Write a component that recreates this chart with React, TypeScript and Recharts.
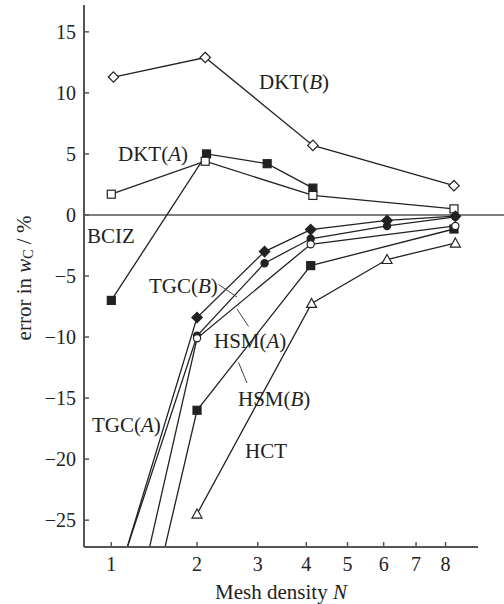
import { Line, LineChart, ReferenceLine, XAxis, YAxis } from "recharts";

// the mesh axis of the original is stretched roughly like N^0.35
const P = 0.35;
const toAxis = (n: number) => Math.pow(n, P);
const fromAxis = (v: number) => Math.pow(v, 1 / P);

const meshTicks = [1, 2, 3, 4, 5, 6, 7, 8];
const errorTicks = [-25, -20, -15, -10, -5, 0, 5, 10, 15];
const meshRange = [0.77, 9.2];
const errorRange = [-27.2, 17.2];
const zeroLineEnd = 10.3;

const dktBMesh = [1.02, 2.12, 4.15, 8.3];
const dktBError = [11.3, 12.9, 5.7, 2.4];

const dktAMesh = [1.0, 2.12, 4.15, 8.3];
const dktAError = [1.7, 4.4, 1.6, 0.5];

const bcizMesh = [1.0, 2.14, 3.18, 4.15];
const bcizError = [-7.0, 5.0, 4.2, 2.2];

const tgcAMesh = [1, 2, 3.13, 4.1, 6.1, 8.35];
const tgcAError = [-31.5, -8.4, -3.0, -1.2, -0.45, -0.1];

const tgcBMesh = [1, 2, 3.13, 4.1, 6.1, 8.35];
const tgcBError = [-31.2, -9.9, -3.95, -1.95, -0.9, -0.15];

const hsmAMesh = [1, 2, 4.1, 8.35];
const hsmAError = [-41, -10.1, -2.4, -0.9];

const hsmBMesh = [1, 2, 4.1, 8.3];
const hsmBError = [-46, -16.0, -4.15, -1.15];

const hctMesh = [2, 4.12, 6.1, 8.35];
const hctError = [-24.5, -7.25, -3.65, -2.3];

type Shape =
  | "diamondOpen"
  | "diamondFilled"
  | "squareOpen"
  | "squareFilled"
  | "circleOpen"
  | "circleFilled"
  | "triangleOpen";

const series: { name: string; mesh: number[]; error: number[]; shape: Shape }[] = [
  { name: "DKT(B)", mesh: dktBMesh, error: dktBError, shape: "diamondOpen" },
  { name: "BCIZ", mesh: bcizMesh, error: bcizError, shape: "squareFilled" },
  { name: "DKT(A)", mesh: dktAMesh, error: dktAError, shape: "squareOpen" },
  { name: "TGC(A)", mesh: tgcAMesh, error: tgcAError, shape: "diamondFilled" },
  { name: "TGC(B)", mesh: tgcBMesh, error: tgcBError, shape: "circleFilled" },
  { name: "HSM(B)", mesh: hsmBMesh, error: hsmBError, shape: "squareFilled" },
  { name: "HSM(A)", mesh: hsmAMesh, error: hsmAError, shape: "circleOpen" },
  { name: "HCT", mesh: hctMesh, error: hctError, shape: "triangleOpen" },
];

const INK = "#222";
const AXIS = "#555";
const FONT = "'Liberation Serif', 'Times New Roman', serif";

function Marker({ cx, cy, shape }: { cx?: number; cy?: number; shape: Shape }) {
  if (cx == null || cy == null || isNaN(cx) || isNaN(cy)) return null;
  const fill = shape.endsWith("Open") ? "#fff" : INK;
  const common = { fill, stroke: INK, strokeWidth: 1.2 };
  if (shape.startsWith("diamond")) {
    const r = 5.2;
    return <path d={`M${cx},${cy - r}L${cx + r},${cy}L${cx},${cy + r}L${cx - r},${cy}Z`} {...common} />;
  }
  if (shape.startsWith("square")) {
    const h = 4;
    return <rect x={cx - h} y={cy - h} width={h * 2} height={h * 2} {...common} />;
  }
  if (shape.startsWith("circle")) {
    return <circle cx={cx} cy={cy} r={3.6} {...common} />;
  }
  const h = 5;
  return <path d={`M${cx},${cy - h}L${cx + h},${cy + 4}L${cx - h},${cy + 4}Z`} {...common} />;
}

const fmtError = (v: number) => (v < 0 ? `\u2212${-v}` : `${v}`);

export default function App() {
  return (
    <div style={{ position: "absolute", left: 0, top: 0, width: 504, height: 604, background: "#fff" }}>
      <LineChart width={504} height={604} margin={{ top: 5, right: 26, bottom: 0, left: 24 }}>
        <XAxis
          type="number"
          dataKey="x"
          domain={meshRange.map(toAxis)}
          ticks={meshTicks.map(toAxis)}
          interval={0}
          allowDataOverflow
          height={57}
          tickFormatter={(v: number) => String(Math.round(fromAxis(v)))}
          tickSize={-5}
          tickMargin={15}
          axisLine={{ stroke: AXIS, strokeWidth: 2 }}
          tickLine={{ stroke: AXIS, strokeWidth: 1.5 }}
          tick={{ fill: INK, fontSize: 20, fontFamily: FONT }}
        />
        <YAxis
          type="number"
          dataKey="y"
          domain={errorRange}
          ticks={errorTicks}
          interval={0}
          allowDataOverflow
          width={60}
          tickFormatter={fmtError}
          tickSize={-5}
          tickMargin={13}
          axisLine={{ stroke: AXIS, strokeWidth: 2 }}
          tickLine={{ stroke: AXIS, strokeWidth: 1.5 }}
          tick={{ fill: INK, fontSize: 20, fontFamily: FONT }}
        />
        <ReferenceLine
          segment={[
            { x: toAxis(meshRange[0]), y: 0 },
            { x: toAxis(zeroLineEnd), y: 0 },
          ]}
          ifOverflow="visible"
          stroke={AXIS}
          strokeWidth={1.5}
        />
        {series.map((s) => (
          <Line
            key={s.name}
            data={s.mesh.map((n, i) => ({ x: toAxis(n), y: s.error[i] }))}
            dataKey="y"
            type="linear"
            stroke={INK}
            strokeWidth={1.3}
            isAnimationActive={false}
            activeDot={false}
            dot={(p: any) => <Marker key={`${s.name}-${p.index}`} cx={p.cx} cy={p.cy} shape={s.shape} />}
          />
        ))}
      </LineChart>
      <svg
        width={504}
        height={604}
        style={{ position: "absolute", left: 0, top: 0, pointerEvents: "none" }}
        fontFamily={FONT}
        fontSize={21}
        fill={INK}
      >
        <text x={259} y={89}>
          DKT(<tspan fontStyle="italic">B</tspan>)
        </text>
        <text x={118} y={161}>
          DKT(<tspan fontStyle="italic">A</tspan>)
        </text>
        <text x={87} y={243}>BCIZ</text>
        <text x={149} y={292.5}>
          TGC(<tspan fontStyle="italic">B</tspan>)
        </text>
        <text x={214} y={348}>
          HSM(<tspan fontStyle="italic">A</tspan>)
        </text>
        <text x={238} y={406}>
          HSM(<tspan fontStyle="italic">B</tspan>)
        </text>
        <text x={92} y={431.5}>
          TGC(<tspan fontStyle="italic">A</tspan>)
        </text>
        <text x={245} y={458}>HCT</text>
        <g stroke="#444" strokeWidth={1}>
          <line x1={218.5} y1={284.5} x2={237} y2={297} />
          <line x1={237} y1={309} x2={248.5} y2={326.5} />
          <line x1={238.5} y1={362.5} x2={247} y2={383} />
        </g>
        <text x={281} y={599} textAnchor="middle">
          Mesh density <tspan fontStyle="italic">N</tspan>
        </text>
        <text x={24} y={278} textAnchor="middle" dominantBaseline="central" transform="rotate(-90, 24, 278)">
          error in <tspan fontStyle="italic">w</tspan>
          <tspan fontSize={14} dy={4}>C</tspan>
          <tspan dy={-4}> / %</tspan>
        </text>
      </svg>
    </div>
  );
}
